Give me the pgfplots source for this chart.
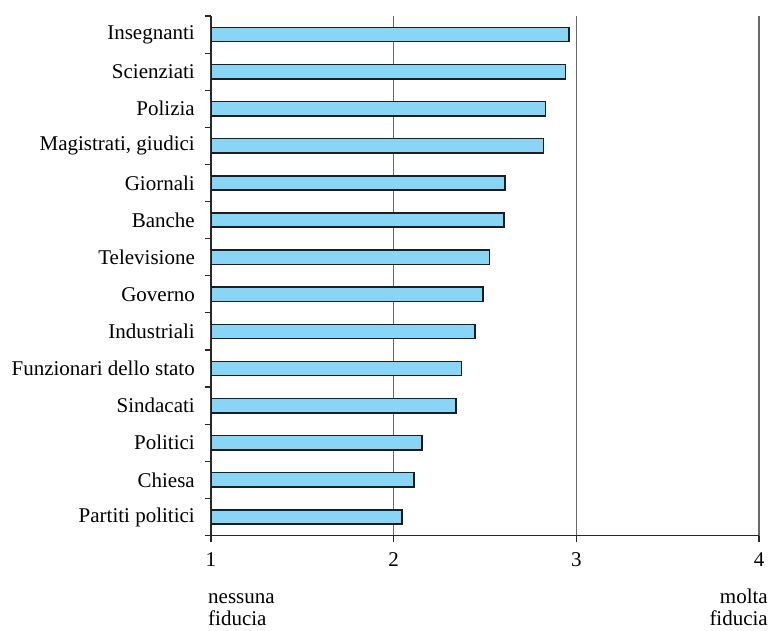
\documentclass[border=0pt]{standalone}
\usepackage{pgfplots}
\usepackage{pgfplotstable}
\usepackage{fontspec}
\setmainfont{Liberation Serif}
\pgfplotsset{compat=1.18}
\definecolor{barfill}{RGB}{137,213,246}
\definecolor{baredge}{RGB}{30,30,30}
\definecolor{gridc}{RGB}{105,105,105}
\definecolor{axc}{RGB}{40,40,40}
\pgfplotstableread[col sep=semicolon]{
label;val
Insegnanti;2.96
Scienziati;2.94
Polizia;2.83
Magistrati, giudici;2.82
Giornali;2.61
Banche;2.605
Televisione;2.525
Governo;2.49
Industriali;2.445
Funzionari dello stato;2.37
Sindacati;2.34
Politici;2.155
Chiesa;2.11
Partiti politici;2.045
}\data
\begin{document}
\fontsize{21}{25}\selectfont
\begin{tikzpicture}
\useasboundingbox (-211pt,-94.5pt) rectangle (560pt,535.5pt);
\begin{axis}[
  at={(0,0)}, anchor=south west,
  scale only axis, width=548pt, height=519.5pt,
  xmin=1, xmax=4, ymin=-0.5, ymax=13.5,
  y dir=reverse,
  axis lines=left,
  axis line style={-, draw=axc, line width=1.2pt},
  xtick={1,2,3,4},
  ytick={-0.5,0.5,1.5,2.5,3.5,4.5,5.5,6.5,7.5,8.5,9.5,10.5,11.5,12.5,13.5},
  y tick label as interval,
  yticklabels from table={\data}{label},
  tick align=outside,
  major tick length=6pt,
  tick style={draw=axc, line width=1.2pt},
  xmajorgrids,
  major grid style={draw=gridc, line width=1.5pt},
  tick label style={font=\fontsize{21}{25}\selectfont},
  /pgf/number format/assume math mode=true,
  yticklabel style={xshift=-3pt},
  xticklabel style={yshift=-4pt},
  clip=true,
]
\addplot[xbar, bar width=14.3pt, bar shift=0pt, fill=barfill, draw=baredge, line width=1.5pt]
  table[x=val, y expr=\coordindex] {\data};
\end{axis}
\node[anchor=base west, inner sep=0pt] at ([xshift=-3pt,yshift=-67.5pt]current axis.south west) {nessuna};
\node[anchor=base west, inner sep=0pt] at ([xshift=-3pt,yshift=-90pt]current axis.south west) {fiducia};
\node[anchor=base east, inner sep=0pt] at ([xshift=9pt,yshift=-67.5pt]current axis.south east) {molta};
\node[anchor=base east, inner sep=0pt] at ([xshift=9pt,yshift=-90pt]current axis.south east) {fiducia};
\end{tikzpicture}
\end{document}
